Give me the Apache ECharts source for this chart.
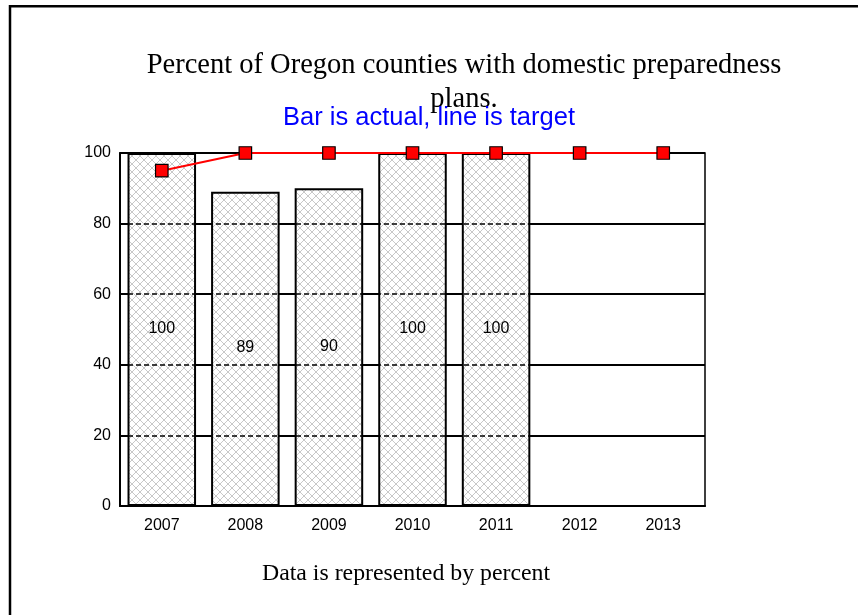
<!DOCTYPE html>
<html>
<head>
<meta charset="utf-8">
<script src="https://cdn.jsdelivr.net/npm/echarts@6/dist/echarts.min.js"></script>
<style>
  html, body { margin: 0; padding: 0; background: #fff; }
  #chart { width: 858px; height: 615px; }
</style>
</head>
<body>
<div id="chart"></div>
<script>
// Oregon county domestic preparedness plans, by year
const years = ['2007', '2008', '2009', '2010', '2011', '2012', '2013'];
const actualPct = [100, 89, 90, 100, 100, null, null];
const targetPct = [95, 100, 100, 100, 100, 100, 100];
const yTicks = [0, 20, 40, 60, 80, 100];

// Crosshatch fill for the bars
function makeHatch() {
  const s = 8;
  const c = document.createElement('canvas');
  c.width = s; c.height = s;
  const g = c.getContext('2d');
  g.fillStyle = '#ffffff';
  g.fillRect(0, 0, s, s);
  g.strokeStyle = '#c8c8c8';
  g.lineWidth = 1;
  g.beginPath();
  g.moveTo(0, 0); g.lineTo(s, s);
  g.moveTo(s, 0); g.lineTo(0, s);
  g.stroke();
  return c;
}

const chart = echarts.init(document.getElementById('chart'), null, { renderer: 'canvas' });

chart.setOption({
  animation: false,
  backgroundColor: '#ffffff',
  title: [
    {
      text: 'Percent of Oregon counties with domestic preparedness\nplans.',
      left: 459, top: 44, textAlign: 'center',
      textStyle: { fontFamily: 'Liberation Serif', fontSize: 28.5, fontWeight: 'normal', color: '#000', lineHeight: 34 }
    },
    {
      text: 'Bar is actual, line is target',
      left: 424, top: 100, textAlign: 'center',
      textStyle: { fontFamily: 'Liberation Sans', fontSize: 25.5, fontWeight: 'normal', color: '#0000ff' }
    },
    {
      text: 'Data is represented by percent',
      left: 401, top: 557, textAlign: 'center',
      textStyle: { fontFamily: 'Liberation Serif', fontSize: 23.8, fontWeight: 'normal', color: '#000' }
    }
  ],
  graphic: [
    {
      type: 'polyline',
      shape: { points: [[10, 615], [10, 6.3], [858, 6.3]] },
      style: { stroke: '#000', lineWidth: 2.5, fill: null },
      z: 100
    }
  ],
  grid: {
    left: 120, right: 153, top: 153, bottom: 109,
    show: true, borderColor: '#000', borderWidth: 1.5, backgroundColor: 'transparent'
  },
  xAxis: {
    type: 'category',
    data: years,
    axisLine: { lineStyle: { color: '#000', width: 2 } },
    axisTick: { show: false },
    axisLabel: { color: '#000', fontFamily: 'Liberation Sans', fontSize: 16, margin: 12 }
  },
  yAxis: {
    type: 'value',
    min: yTicks[0], max: yTicks[yTicks.length - 1], interval: 20,
    axisLine: { show: true, lineStyle: { color: '#000', width: 2 } },
    axisTick: { show: false },
    axisLabel: { color: '#000', fontFamily: 'Liberation Sans', fontSize: 16, margin: 9 },
    splitLine: { show: true, lineStyle: { color: '#000', width: 2 } }
  },
  series: [
    {
      name: 'Actual',
      type: 'bar',
      data: actualPct,
      barCategoryGap: '18%',
      itemStyle: {
        color: { image: makeHatch(), repeat: 'repeat' },
        borderColor: '#000', borderWidth: 2
      },
      label: {
        show: true, position: 'inside', color: '#000',
        fontFamily: 'Liberation Sans', fontSize: 16, offset: [0, -1]
      },
      markLine: {
        silent: true, symbol: 'none', label: { show: false },
        lineStyle: { color: '#000', type: [5, 3], width: 1.5 },
        data: yTicks.slice(1, -1).map(v => ({ yAxis: v }))
      },
      z: 2
    },
    {
      name: 'Target',
      type: 'line',
      data: targetPct,
      symbol: 'rect', symbolSize: 12.5,
      lineStyle: { color: '#ff0000', width: 2 },
      itemStyle: { color: '#ff0000', borderColor: '#000', borderWidth: 1.2 },
      z: 5
    }
  ]
});
</script>
</body>
</html>
